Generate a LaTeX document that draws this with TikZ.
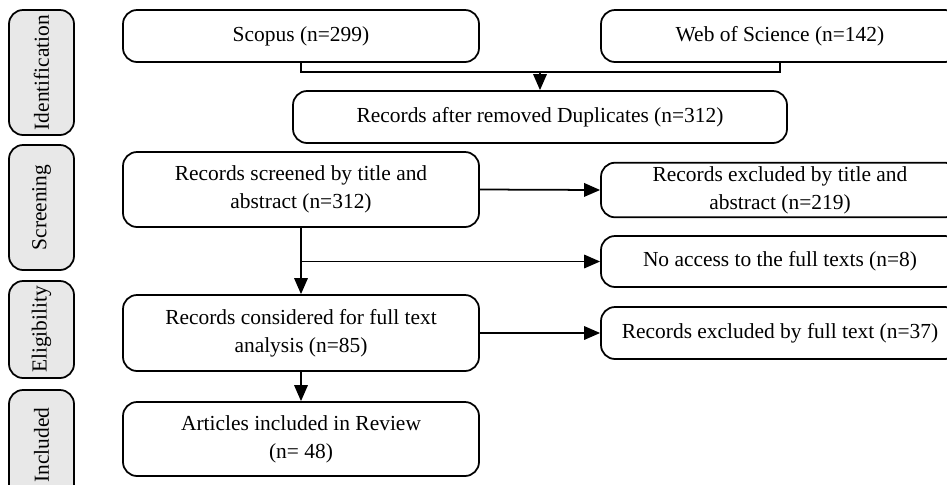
\documentclass[tikz,border=0pt]{standalone}
\usepackage{fontspec}
\setmainfont{Liberation Serif}
\usetikzlibrary{calc}
\usetikzlibrary{arrows.meta}

\begin{document}
\begin{tikzpicture}[x=0.02cm, y=-0.02cm,
    box/.style={draw, line width=1pt, rounded corners=8pt, align=center,
        font=\fontsize{12.2}{16}\selectfont, inner sep=2pt},
    phase/.style={draw, line width=1pt, rounded corners=8pt, fill=gray!18,
        rotate=90, font=\fontsize{12.2}{14}\selectfont, minimum height=65*0.02cm, inner sep=0pt},
    link/.style={line width=1pt},
    arrow/.style={line width=1pt, -{Triangle[length=0.32cm, width=0.27cm]}}]
            % Define the widths of the columns
            \def\wl{356}  % width of left boxes
            \def\wr{358}  % width of right boxes

            % Fix the picture size
            \useasboundingbox (0,0) rectangle (947,484);
            \clip (0,0) rectangle (947,484);

            % Draw phase labels
            \node[phase, minimum width=125*0.02cm] (ident) at (41.5,72.5) {Identification};
            \node[phase, minimum width=125*0.02cm] (scree) at (41.5,207.5) {Screening};
            \node[phase, minimum width=97*0.02cm] (eligi) at (41.5,329.5) {Eligibility};
            \node[phase, minimum width=110*0.02cm] (inclu) at (41.5,445) {Included};

            % Draw the record boxes
            \node[box, minimum width=\wl*0.02cm, minimum height=52*0.02cm] (scopus) at (301,36) {Scopus (n=299)};
            \node[box, minimum width=\wr*0.02cm, minimum height=52*0.02cm] (wos) at (780,36) {Web of Science (n=142)};
            \node[box, minimum width=494*0.02cm, minimum height=52*0.02cm] (dup) at (540,117) {Records after removed Duplicates (n=312)};
            \node[box, minimum width=\wl*0.02cm, minimum height=75*0.02cm] (screen) at (301,189.5) {Records screened by title and\\abstract (n=312)};
            \node[box, minimum width=\wr*0.02cm, minimum height=52*0.02cm] (exclta) at (780,190) {Records excluded by title and\\abstract (n=219)};
            \node[box, minimum width=\wr*0.02cm, minimum height=51*0.02cm] (noacc) at (780,261.5) {No access to the full texts (n=8)};
            \node[box, minimum width=\wl*0.02cm, minimum height=76*0.02cm] (elig) at (301,333) {Records considered for full text\\analysis (n=85)};
            \node[box, minimum width=\wr*0.02cm, minimum height=52*0.02cm] (exclft) at (780,333) {Records excluded by full text (n=37)};
            \node[box, minimum width=\wl*0.02cm, minimum height=74*0.02cm] (incl) at (301,439) {Articles included in Review\\(n= 48)};

            % Join the two sources
            \coordinate (J1) at ($(scopus.south)+(0,9)$);
            \coordinate (J2) at (J1 -| wos.south);
            \coordinate (J3) at (J1 -| dup.north);
            \draw[link] (scopus.south) -- (J1) -- (J2) -- (wos.south);
            \draw[arrow] (J3) -- (dup.north);

            % Draw the flow arrows
            \coordinate (B1) at (screen.south |- noacc.west);
            \draw[arrow] (screen.east) -- (exclta.west);
            \draw[arrow] (screen.south) -- (elig.north);
            \draw[arrow] (B1) -- (noacc.west);
            \draw[arrow] (elig.east) -- (exclft.west);
            \draw[arrow] (elig.south) -- (incl.north);
\end{tikzpicture}
\end{document}
